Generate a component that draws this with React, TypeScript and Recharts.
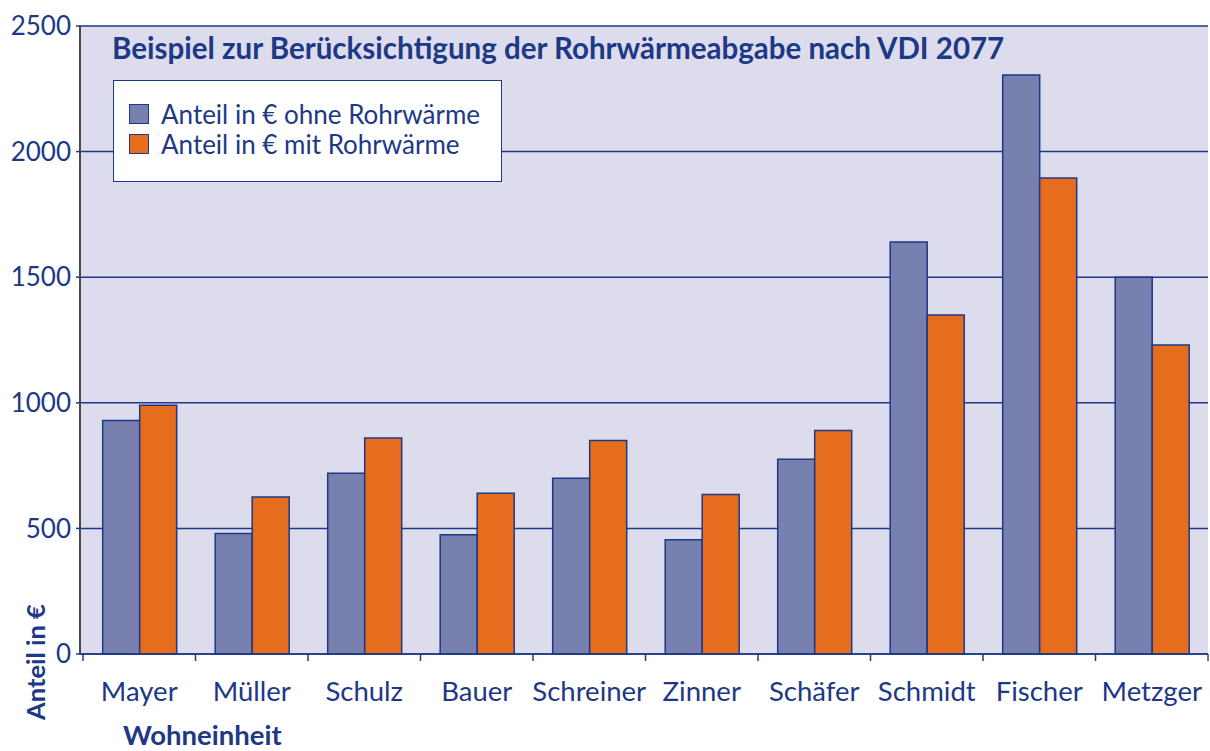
import React from 'react';
import { BarChart, Bar, XAxis, YAxis, CartesianGrid } from 'recharts';

const categories = ['Mayer', 'Müller', 'Schulz', 'Bauer', 'Schreiner', 'Zinner', 'Schäfer', 'Schmidt', 'Fischer', 'Metzger'];
const ohneRohrwaerme = [930, 480, 720, 475, 700, 455, 775, 1640, 2305, 1500];
const mitRohrwaerme = [990, 625, 860, 640, 850, 635, 890, 1350, 1895, 1230];
const yTicks = [0, 500, 1000, 1500, 2000, 2500];

const seriesNames = ['Anteil in € ohne Rohrwärme', 'Anteil in € mit Rohrwärme'];
const data = categories.map((c, i) => ({ name: c, ohne: ohneRohrwaerme[i], mit: mitRohrwaerme[i] }));

const DARK = '#1d3886';
const BLUE = '#7880b0';
const ORANGE = '#e66c1e';
const FONT = 'Lato, "Open Sans", sans-serif';

const XTick = (props: any) => {
  const { x, y, payload, index } = props;
  const off = payload && payload.offset ? payload.offset : 56.25;
  return (
    <g>
      <line x1={x - off} x2={x - off} y1={y - 8} y2={y - 1} stroke={DARK} strokeWidth={1.5} />
      {index === categories.length - 1 && (
        <line x1={x + off} x2={x + off} y1={y - 8} y2={y - 1} stroke="#4a4a4a" strokeWidth={1.5} />
      )}
      <text x={x} y={y + 39} textAnchor="middle" fill={DARK} fontSize={27.5} fontFamily={FONT}>
        {payload.value}
      </text>
    </g>
  );
};

export default function App() {
  return (
    <div style={{ position: 'absolute', left: 0, top: 0, width: 1210, height: 751, background: '#ffffff', fontFamily: FONT, overflow: 'hidden' }}>
      <BarChart
        width={1210}
        height={751}
        data={data}
        margin={{ top: 26, right: 2, left: 0, bottom: 0 }}
        barCategoryGap="17.5%"
        barGap={0}
      >
        <CartesianGrid
          yAxisId="left"
          vertical={false}
          stroke={DARK}
          strokeWidth={1.5}
          fill="#dcdcec"
          fillOpacity={1}
        />
        <XAxis
          dataKey="name"
          height={97}
          padding={{ left: 3, right: 0 }}
          axisLine={{ stroke: DARK, strokeWidth: 1.5 }}
          tickLine={false}
          tick={<XTick />}
          interval={0}
        />
        <YAxis
          yAxisId="left"
          width={80}
          domain={[0, 2500]}
          ticks={yTicks}
          interval={0}
          axisLine={{ stroke: '#4a4a4a', strokeWidth: 2 }}
          tickLine={{ stroke: DARK, strokeWidth: 1.5 }}
          tickSize={4}
          tickMargin={5}
          tick={{ fill: DARK, fontSize: 26, fontFamily: FONT }}
        />
        <YAxis
          yAxisId="right"
          orientation="right"
          width={0}
          domain={[0, 2500]}
          tick={false}
          tickLine={false}
          axisLine={{ stroke: '#4a4a4a', strokeWidth: 2 }}
        />
        <Bar yAxisId="left" dataKey="ohne" name={seriesNames[0]} fill={BLUE} stroke={DARK} strokeWidth={1.5} isAnimationActive={false} />
        <Bar yAxisId="left" dataKey="mit" name={seriesNames[1]} fill={ORANGE} stroke={DARK} strokeWidth={1.5} isAnimationActive={false} />
      </BarChart>
      <div
        style={{
          position: 'absolute',
          left: 113,
          top: 80,
          width: 389,
          height: 102,
          background: '#ffffff',
          border: `1.5px solid ${DARK}`,
          boxSizing: 'border-box',
          paddingTop: 18,
          paddingLeft: 15,
          fontFamily: FONT,
          fontSize: 26,
          color: DARK,
        }}
      >
        {seriesNames.map((n, i) => (
          <div key={n} style={{ display: 'flex', alignItems: 'center', height: 30 }}>
            <div
              style={{
                width: 20,
                height: 20,
                background: i === 0 ? BLUE : ORANGE,
                border: `1.5px solid ${DARK}`,
                marginRight: 12,
                boxSizing: 'border-box',
                flex: 'none',
              }}
            />
            <span style={{ whiteSpace: 'nowrap' }}>{n}</span>
          </div>
        ))}
      </div>
      <div style={{ position: 'absolute', left: 112, top: 30, fontSize: 29.5, fontWeight: 700, color: DARK, whiteSpace: 'nowrap', fontFamily: FONT, lineHeight: '36px' }}>
        Beispiel zur Berücksichtigung der Rohrwärmeabgabe nach VDI 2077
      </div>
      <div style={{ position: 'absolute', left: 123, top: 720, fontSize: 27.5, fontWeight: 700, color: DARK, whiteSpace: 'nowrap', fontFamily: FONT, lineHeight: '30px' }}>
        Wohneinheit
      </div>
      <div
        style={{
          position: 'absolute',
          left: 35,
          top: 662,
          transform: 'translate(-50%, -50%) rotate(-90deg)',
          fontSize: 25.5,
          fontWeight: 700,
          color: DARK,
          whiteSpace: 'nowrap',
          fontFamily: FONT,
        }}
      >
        Anteil in €
      </div>
    </div>
  );
}
